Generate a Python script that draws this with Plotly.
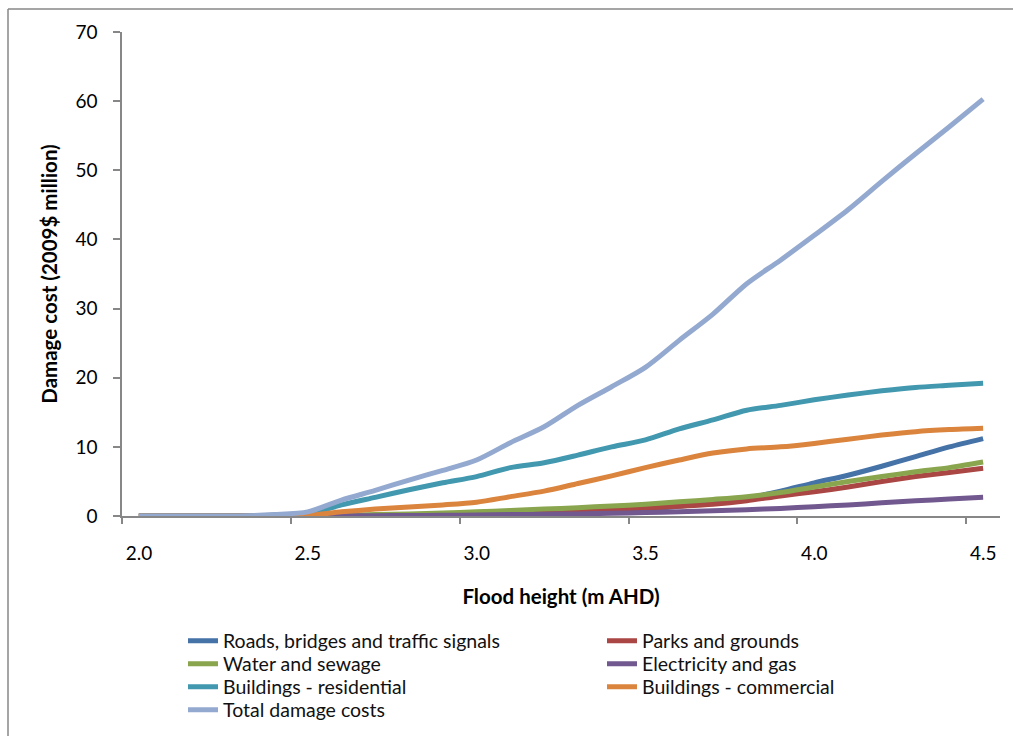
import plotly.graph_objects as go

# Flood height steps (m AHD)
flood_height = [2.0, 2.1, 2.2, 2.3, 2.4, 2.5, 2.6, 2.7, 2.8, 2.9, 3.0, 3.1, 3.2,
                3.3, 3.4, 3.5, 3.6, 3.7, 3.8, 3.9, 4.0, 4.1, 4.2, 4.3, 4.4, 4.5]

# Damage cost by asset class (2009$ million)
roads = [0, 0, 0, 0, 0, 0.02, 0.05, 0.08, 0.12, 0.16, 0.2, 0.3, 0.4,
         0.55, 0.75, 1.0, 1.4, 1.9, 2.6, 3.6, 4.8, 5.9, 7.2, 8.6, 10.0, 11.2]
parks = [0, 0, 0, 0, 0, 0.02, 0.05, 0.08, 0.12, 0.2, 0.3, 0.45, 0.6,
         0.8, 1.0, 1.15, 1.4, 1.7, 2.2, 2.9, 3.5, 4.2, 5.0, 5.7, 6.3, 6.9]
water = [0, 0, 0, 0, 0, 0.05, 0.1, 0.2, 0.3, 0.45, 0.6, 0.8, 1.0,
         1.2, 1.45, 1.7, 2.05, 2.4, 2.8, 3.4, 4.2, 5.0, 5.7, 6.4, 7.0, 7.8]
electricity = [0, 0, 0, 0, 0, 0, 0.02, 0.05, 0.08, 0.1, 0.15, 0.2, 0.25,
               0.3, 0.4, 0.5, 0.6, 0.75, 0.9, 1.1, 1.35, 1.6, 1.9, 2.2, 2.45, 2.7]
residential = [0, 0, 0, 0, 0.1, 0.3, 1.6, 2.7, 3.8, 4.8, 5.7, 7.0, 7.7,
               8.8, 10.0, 11.0, 12.6, 13.9, 15.3, 16.0, 16.8, 17.5, 18.1, 18.6, 18.9, 19.2]
commercial = [0, 0, 0, 0, 0, 0.1, 0.6, 1.0, 1.3, 1.6, 2.0, 2.8, 3.6,
              4.7, 5.8, 7.0, 8.1, 9.1, 9.7, 10.0, 10.5, 11.1, 11.7, 12.2, 12.5, 12.7]
total = [0, 0, 0, 0, 0.2, 0.6, 2.3, 3.7, 5.2, 6.6, 8.1, 10.6, 12.9,
         16.0, 18.7, 21.5, 25.4, 29.2, 33.6, 37.0, 40.6, 44.3, 48.4, 52.4, 56.3, 60.3]

series_names = ["Roads, bridges and traffic signals", "Parks and grounds",
                "Water and sewage", "Electricity and gas",
                "Buildings - residential", "Buildings - commercial",
                "Total damage costs"]
series_values = [roads, parks, water, electricity, residential, commercial, total]
series_colors = ["#4572A7", "#AA4643", "#89A54E", "#71588F",
                 "#4198AF", "#DB843D", "#93A9CF"]

# Category boundaries carry the tick marks; labels sit at category centres
tick_positions = [1.95, 2.45, 2.95, 3.45, 3.95, 4.45]
tick_labels = ["2.0", "2.5", "3.0", "3.5", "4.0", "4.5"]
y_ticks = [0, 10, 20, 30, 40, 50, 60, 70]

FONT = "Lato, Carlito, Calibri, sans-serif"
GREY = "#878787"

W, H = 1013, 736
ml, mr, mt, mb = 122, 13, 32, 220
pw, ph = W - ml - mr, H - mt - mb

# two-column legend: one legend box per row
legend_rows = ["legend", "legend", "legend2", "legend2",
               "legend3", "legend3", "legend4"]
row_centres = [641, 664, 687, 710]

fig = go.Figure()
for name, vals, col, lg in zip(series_names, series_values, series_colors, legend_rows):
    fig.add_trace(go.Scatter(
        x=flood_height, y=vals, name=name, mode="lines", legend=lg,
        line=dict(color=col, width=5, shape="spline", smoothing=0.8),
    ))

legend_style = dict(
    orientation="h",
    xref="container", yref="container",
    x=183 / W, xanchor="left", yanchor="middle",
    entrywidth=374, entrywidthmode="pixels",
    itemwidth=30, borderwidth=0,
    font=dict(family=FONT, size=19.5, color="#111111"),
    bgcolor="rgba(0,0,0,0)",
)
legends = {}
for i, key in enumerate(["legend", "legend2", "legend3", "legend4"]):
    legends[key] = dict(legend_style, y=1 - row_centres[i] / H)

fig.update_layout(
    width=W, height=H,
    margin=dict(l=ml, r=mr, t=mt, b=mb, autoexpand=False),
    paper_bgcolor="white", plot_bgcolor="white",
    font=dict(family=FONT, size=19, color="black"),
    showlegend=True,
    **legends,
    xaxis=dict(
        range=[1.95, 4.55], tickvals=tick_positions, ticktext=tick_labels,
        ticks="outside", ticklen=6, tickwidth=1.5, tickcolor=GREY,
        ticklabelshift=17, ticklabelstandoff=13,
        showline=True, linecolor=GREY, linewidth=1.5,
        showgrid=False, zeroline=False,
        tickfont=dict(family=FONT, size=19, color="black"),
        title=dict(text="<b>Flood height (m AHD)</b>", standoff=27,
                   font=dict(family=FONT, size=20.5, color="black")),
    ),
    yaxis=dict(
        range=[0, 70], tickvals=y_ticks,
        ticks="outside", ticklen=7, tickwidth=1.5, tickcolor=GREY,
        ticklabelstandoff=12,
        showline=True, linecolor=GREY, linewidth=1.5,
        showgrid=False, zeroline=False,
        tickfont=dict(family=FONT, size=19, color="black"),
        title=dict(text="<b>Damage cost (2009$ million)</b>", standoff=12,
                   font=dict(family=FONT, size=20.5, color="black")),
    ),
    shapes=[
        # chart area frame (left and top edges)
        dict(type="line", xref="paper", yref="paper",
             x0=(8 - ml) / pw, x1=(8 - ml) / pw,
             y0=(mt + ph - 9) / ph, y1=(mt + ph - H - 5) / ph,
             line=dict(color=GREY, width=1.5)),
        dict(type="line", xref="paper", yref="paper",
             x0=(8 - ml) / pw, x1=(W + 5 - ml) / pw,
             y0=(mt + ph - 9) / ph, y1=(mt + ph - 9) / ph,
             line=dict(color=GREY, width=1.5)),
    ],
)

fig.write_html("out.html")
